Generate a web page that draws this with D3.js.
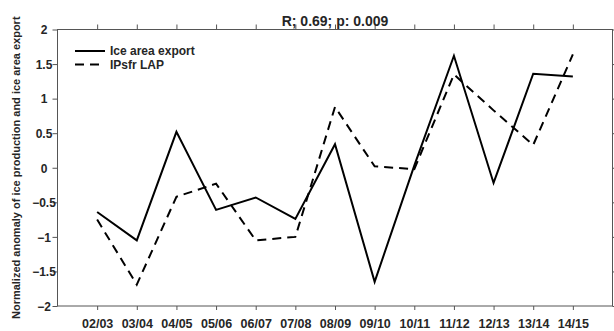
<!DOCTYPE html>
<html>
<head>
<meta charset="utf-8">
<script src="https://cdn.jsdelivr.net/npm/d3@7"></script>
<style>
  html, body { margin: 0; padding: 0; background: #fff; }
  svg { display: block; }
  text { font-family: "Liberation Sans", Arial, Helvetica, sans-serif; font-weight: bold; fill: #262626; }
</style>
</head>
<body>
<svg id="chart" width="614" height="331"></svg>
<script>
// Winter seasons on the x axis
const seasons = ["02/03", "03/04", "04/05", "05/06", "06/07", "07/08", "08/09",
                 "09/10", "10/11", "11/12", "12/13", "13/14", "14/15"];
// Normalized anomaly of ice area export (solid line)
const iceAreaExport = [-0.64, -1.05, 0.52, -0.61, -0.43, -0.74, 0.34,
                       -1.65, 0.03, 1.62, -0.22, 1.36, 1.32];
// Normalized anomaly of IPsfr LAP ice production (dashed line)
const ipsfrLAP = [-0.75, -1.69, -0.42, -0.23, -1.05, -1.0, 0.88,
                  0.02, -0.02, 1.35, 0.83, 0.33, 1.64];
const yTicks = [-2, -1.5, -1, -0.5, 0, 0.5, 1, 1.5, 2];
const seriesNames = ["Ice area export", "IPsfr LAP"];
const titleText = "R; 0.69; p: 0.009";
const yLabel = "Normalized anomaly of ice production and ice area export";

(function () {
  const svg = d3.select("#chart");
  const plotLeft = 57.5, plotRight = 612.5, plotTop = 29.5, plotBottom = 306;

  const x = d3.scaleLinear().domain([0, seasons.length + 1]).range([plotLeft, plotRight]);
  const y = d3.scaleLinear().domain([-2, 2]).range([plotBottom, plotTop]);
  const xIdx = seasons.map((s, i) => i + 1);

  // Outward ticks on all four sides
  const axisColor = "#555";
  function styleAxis(g) {
    g.select(".domain").remove();
    g.selectAll(".tick line").attr("stroke", axisColor).attr("stroke-width", 1);
  }

  svg.append("g")
    .attr("transform", `translate(0,${plotBottom})`)
    .call(d3.axisBottom(x).tickValues(xIdx).tickSize(4).tickPadding(6)
          .tickFormat((d, i) => seasons[i]))
    .call(styleAxis)
    .call(g => g.selectAll(".tick text")
        .attr("font-size", 12.5).attr("fill", "#262626")
        .attr("y", 22).attr("dy", null));

  svg.append("g")
    .attr("transform", `translate(0,${plotTop})`)
    .call(d3.axisTop(x).tickValues(xIdx).tickSize(5).tickFormat(""))
    .call(styleAxis);

  svg.append("g")
    .attr("transform", `translate(${plotLeft},0)`)
    .call(d3.axisLeft(y).tickValues(yTicks).tickSize(5).tickFormat(d3.format("")))
    .call(styleAxis)
    .call(g => g.selectAll(".tick text")
        .attr("font-size", 12).attr("fill", "#262626")
        .attr("text-anchor", "middle").attr("x", -13.5).attr("dy", "0.36em"));

  svg.append("g")
    .attr("transform", `translate(${plotRight},0)`)
    .call(d3.axisRight(y).tickValues(yTicks).tickSize(4).tickFormat(""))
    .call(styleAxis);

  // Strip the axis-level font settings so the CSS font applies
  svg.selectAll("g").attr("font-family", null).attr("font-size", null);

  // Axes box
  svg.append("rect")
    .attr("x", plotLeft).attr("y", plotTop)
    .attr("width", plotRight - plotLeft).attr("height", plotBottom - plotTop)
    .attr("fill", "none").attr("stroke", axisColor).attr("stroke-width", 1);

  // Data lines
  const line = d3.line().x((d, i) => x(i + 1)).y(d => y(d));
  svg.append("path").datum(iceAreaExport)
    .attr("d", line).attr("fill", "none").attr("stroke", "#000")
    .attr("stroke-width", 2).attr("stroke-linejoin", "miter");
  svg.append("path").datum(ipsfrLAP)
    .attr("d", line).attr("fill", "none").attr("stroke", "#000")
    .attr("stroke-width", 2).attr("stroke-dasharray", "9,6");

  // Legend
  const legend = svg.append("g").attr("transform", "translate(75,51)");
  seriesNames.forEach((name, i) => {
    const row = legend.append("g").attr("transform", `translate(0,${i * 13.5})`);
    row.append("line").attr("x1", 0).attr("x2", 30).attr("y1", 0).attr("y2", 0)
      .attr("stroke", "#000").attr("stroke-width", 2)
      .attr("stroke-dasharray", i === 1 ? "9,6" : null);
    row.append("text").attr("x", 35).attr("y", 0).attr("dy", "0.36em")
      .attr("font-size", 12).text(name);
  });

  // Title
  svg.append("text")
    .attr("x", (plotLeft + plotRight) / 2).attr("y", 25.5)
    .attr("text-anchor", "middle").attr("font-size", 14)
    .text(titleText);

  // Y axis label
  svg.append("text")
    .attr("transform", `translate(19.5,${(plotTop + plotBottom) / 2}) rotate(-90)`)
    .attr("text-anchor", "middle").attr("font-size", 11)
    .text(yLabel);
})();
</script>
</body>
</html>
